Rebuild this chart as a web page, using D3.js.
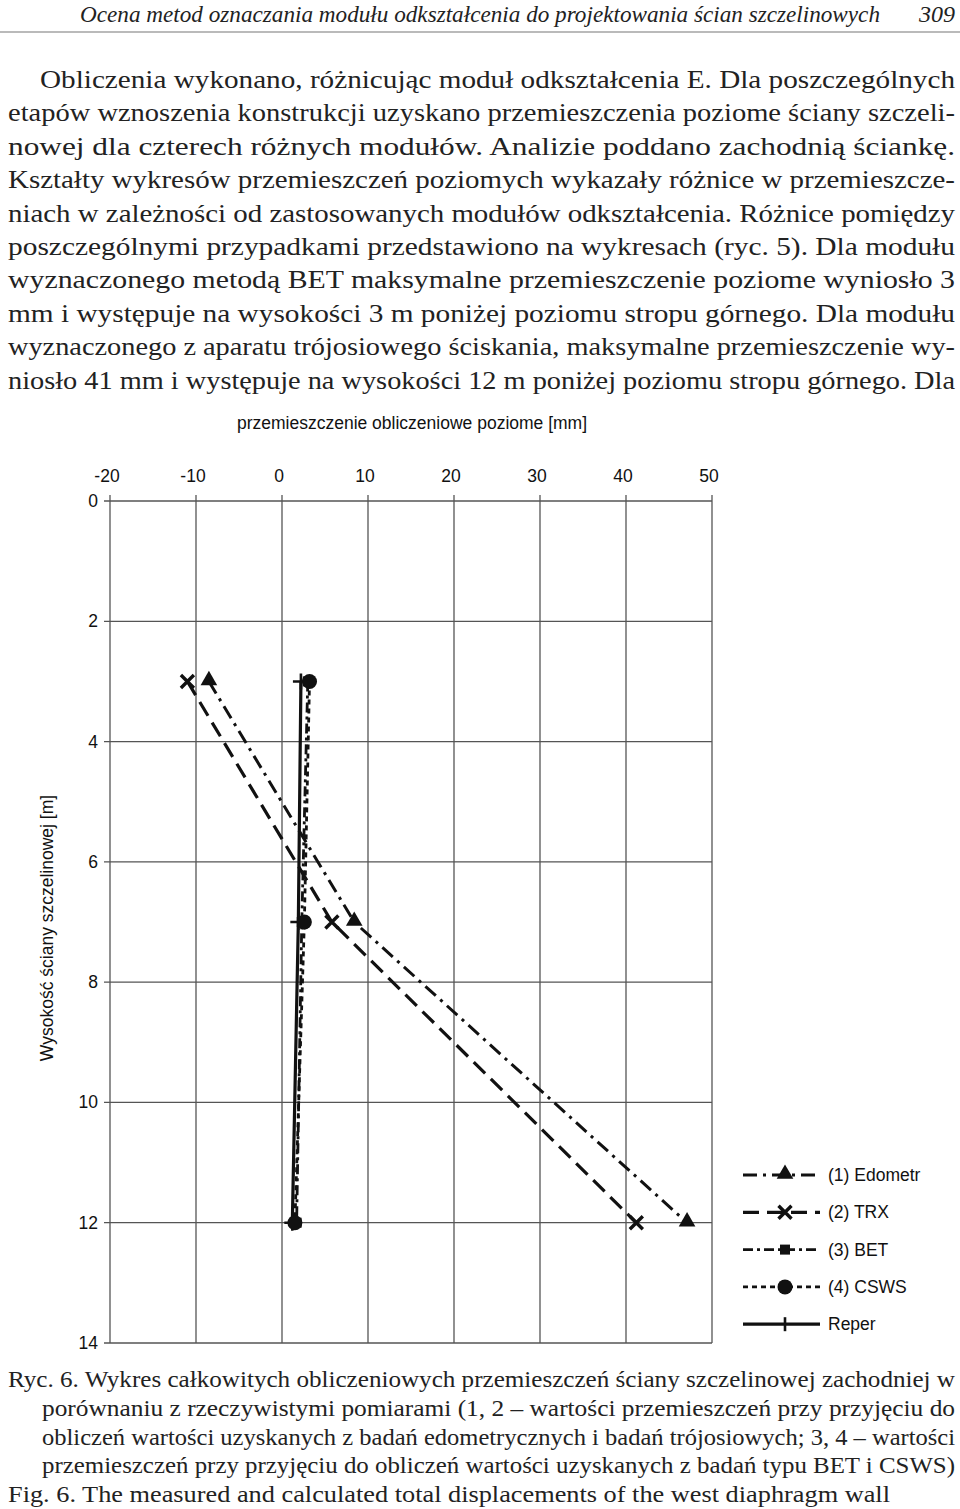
<!DOCTYPE html>
<html>
<head>
  <meta charset="utf-8">
  <title>Ryc. 6</title>
  <script src="https://cdn.jsdelivr.net/npm/d3@7"></script>
  <style>
    body { margin: 0; background: #fff; }
    svg { display: block; }
    .body-text { font-family: "Liberation Serif", "Times New Roman", serif; font-size: 25px; fill: #222; }
    .chart-text { font-family: "Liberation Sans", Arial, sans-serif; font-size: 17.5px; fill: #111; }
  </style>
</head>
<body>
<svg id="page" width="960" height="1509"></svg>
<script>
  // values
  var depths = [3, 7, 12];                 // m below top slab
  var edometr = [-8.5, 8.4, 47.1];         // (1) mm
  var trx = [-11.0, 5.8, 41.2];            // (2) mm
  var bet = [3.0, 2.3, 1.7];               // (3) mm
  var csws = [3.2, 2.6, 1.5];              // (4) mm
  var reper = [2.2, 1.9, 1.2];             // measured
  var xTicks = [-20, -10, 0, 10, 20, 30, 40, 50];
  var yTicks = [0, 2, 4, 6, 8, 10, 12, 14];
  var legendNames = ['(1) Edometr', '(2) TRX', '(3) BET', '(4) CSWS', 'Reper'];

  var bodyLines = [
    'Obliczenia wykonano, różnicując moduł odkształcenia E. Dla poszczególnych',
    'etapów wznoszenia konstrukcji uzyskano przemieszczenia poziome ściany szczeli-',
    'nowej dla czterech różnych modułów. Analizie poddano zachodnią ściankę.',
    'Kształty wykresów przemieszczeń poziomych wykazały różnice w przemieszcze-',
    'niach w zależności od zastosowanych modułów odkształcenia. Różnice pomiędzy',
    'poszczególnymi przypadkami przedstawiono na wykresach (ryc. 5). Dla modułu',
    'wyznaczonego metodą BET maksymalne przemieszczenie poziome wyniosło 3',
    'mm i występuje na wysokości 3 m poniżej poziomu stropu górnego. Dla modułu',
    'wyznaczonego z aparatu trójosiowego ściskania, maksymalne przemieszczenie wy-',
    'niosło 41 mm i występuje na wysokości 12 m poniżej poziomu stropu górnego. Dla'
  ];
  var captionLines = [
    'Ryc. 6. Wykres całkowitych obliczeniowych przemieszczeń ściany szczelinowej zachodniej w',
    'porównaniu z rzeczywistymi pomiarami (1, 2 – wartości przemieszczeń przy przyjęciu do',
    'obliczeń wartości uzyskanych z badań edometrycznych i badań trójosiowych; 3, 4 – wartości',
    'przemieszczeń przy przyjęciu do obliczeń wartości uzyskanych z badań typu BET i CSWS)',
    'Fig. 6. The measured and calculated total displacements of the west diaphragm wall'
  ];

  var svg = d3.select('#page');

  // running header
  svg.append('text').attr('class', 'body-text')
    .attr('x', 80).attr('y', 22)
    .attr('textLength', 800).attr('lengthAdjust', 'spacingAndGlyphs')
    .style('font-style', 'italic').style('font-size', '24px')
    .text('Ocena metod oznaczania modułu odkształcenia do projektowania ścian szczelinowych');
  svg.append('text').attr('class', 'body-text')
    .attr('x', 955).attr('y', 22).attr('text-anchor', 'end')
    .style('font-style', 'italic').style('font-size', '24px')
    .text('309');
  svg.append('line')
    .attr('x1', 0).attr('x2', 960).attr('y1', 32).attr('y2', 32)
    .attr('stroke', '#777').attr('stroke-width', 1.2);

  // body paragraph, justified line by line
  svg.append('g').selectAll('text')
    .data(bodyLines)
    .join('text')
      .attr('class', 'body-text')
      .attr('x', function(d, i) { return i === 0 ? 40 : 8; })
      .attr('y', function(d, i) { return 88 + i * 33.4; })
      .attr('textLength', function(d, i) { return i === 0 ? 915 : 947; })
      .attr('lengthAdjust', 'spacingAndGlyphs')
      .text(function(d) { return d; });

  // chart
  var x = d3.scaleLinear().domain([-20, 50]).range([110, 712]);
  var y = d3.scaleLinear().domain([0, 14]).range([501, 1343]);

  var grid = svg.append('g');
  grid.selectAll('.vline')
    .data(xTicks)
    .join('line')
      .attr('x1', function(d) { return x(d); })
      .attr('x2', function(d) { return x(d); })
      .attr('y1', y(0) - 6).attr('y2', y(14))
      .attr('stroke', '#555').attr('stroke-width', 1.3);
  grid.selectAll('.hline')
    .data(yTicks)
    .join('line')
      .attr('x1', x(-20) - 6).attr('x2', x(50))
      .attr('y1', function(d) { return y(d); })
      .attr('y2', function(d) { return y(d); })
      .attr('stroke', '#555').attr('stroke-width', 1.3);

  svg.append('g').selectAll('text')
    .data(xTicks)
    .join('text')
      .attr('class', 'chart-text')
      .attr('x', function(d) { return x(d) - 3; })
      .attr('y', 482)
      .attr('text-anchor', 'middle')
      .text(function(d) { return d; });
  svg.append('g').selectAll('text')
    .data(yTicks)
    .join('text')
      .attr('class', 'chart-text')
      .attr('x', 98)
      .attr('y', function(d) { return y(d) + 6; })
      .attr('text-anchor', 'end')
      .text(function(d) { return d; });

  svg.append('text').attr('class', 'chart-text')
    .attr('x', 412).attr('y', 429).attr('text-anchor', 'middle')
    .text('przemieszczenie obliczeniowe poziome [mm]');
  svg.append('text').attr('class', 'chart-text')
    .attr('transform', 'translate(53,928) rotate(-90)')
    .attr('text-anchor', 'middle')
    .text('Wysokość ściany szczelinowej [m]');

  var series = [
    {name: legendNames[0], values: edometr, dash: '14,6,3,6', width: 3, marker: 'triangle'},
    {name: legendNames[1], values: trx, dash: '16,8', width: 3.2, marker: 'cross'},
    {name: legendNames[2], values: bet, dash: '10,4,3,4', width: 2.8, marker: 'square'},
    {name: legendNames[3], values: csws, dash: '5,4', width: 2.8, marker: 'circle'},
    {name: legendNames[4], values: reper, dash: null, width: 3.2, marker: 'plus'}
  ];

  var line = d3.line()
    .x(function(d) { return x(d[0]); })
    .y(function(d) { return y(d[1]); });

  series.forEach(function(s) {
    var pts = s.values.map(function(v, i) { return [v, depths[i]]; });
    svg.append('path')
      .attr('d', line(pts))
      .attr('fill', 'none')
      .attr('stroke', '#111')
      .attr('stroke-width', s.width)
      .attr('stroke-dasharray', s.dash);
  });

  function drawMarker(g, type, cx, cy) {
    if (type === 'triangle') {
      g.append('path')
        .attr('d', d3.symbol().type(d3.symbolTriangle).size(120)())
        .attr('transform', 'translate(' + cx + ',' + (cy - 1) + ')')
        .attr('fill', '#111');
    } else if (type === 'cross') {
      g.append('path')
        .attr('d', 'M-6.5,-6.5L6.5,6.5M-6.5,6.5L6.5,-6.5')
        .attr('transform', 'translate(' + cx + ',' + cy + ')')
        .attr('stroke', '#111').attr('stroke-width', 3.4).attr('fill', 'none');
    } else if (type === 'square') {
      g.append('rect')
        .attr('x', cx - 5).attr('y', cy - 5).attr('width', 10).attr('height', 10)
        .attr('fill', '#111');
    } else if (type === 'circle') {
      g.append('circle')
        .attr('cx', cx).attr('cy', cy).attr('r', 7.5)
        .attr('fill', '#111');
    } else if (type === 'plus') {
      g.append('path')
        .attr('d', 'M-8,0L8,0M0,-8L0,8')
        .attr('transform', 'translate(' + cx + ',' + cy + ')')
        .attr('stroke', '#111').attr('stroke-width', 2.6).attr('fill', 'none');
    }
  }

  var markers = svg.append('g');
  [2, 4, 3, 1, 0].forEach(function(k) {
    var s = series[k];
    s.values.forEach(function(v, i) {
      drawMarker(markers, s.marker, x(v), y(depths[i]));
    });
  });

  // legend
  var legend = svg.append('g');
  series.forEach(function(s, i) {
    var ly = 1175 + i * 37.3;
    legend.append('line')
      .attr('x1', 743).attr('x2', 820)
      .attr('y1', ly).attr('y2', ly)
      .attr('stroke', '#111')
      .attr('stroke-width', s.width)
      .attr('stroke-dasharray', s.dash);
    if (s.marker === 'plus') {
      legend.append('line')
        .attr('x1', 785).attr('x2', 785).attr('y1', ly - 7).attr('y2', ly + 7)
        .attr('stroke', '#111').attr('stroke-width', 2.6);
    } else {
      drawMarker(legend, s.marker, 785, ly);
    }
    legend.append('text').attr('class', 'chart-text')
      .attr('x', 828).attr('y', ly + 6)
      .text(s.name);
  });

  // caption
  svg.append('g').selectAll('text')
    .data(captionLines)
    .join('text')
      .attr('class', 'body-text')
      .style('font-size', '23px')
      .attr('x', function(d, i) { return (i === 0 || i === 4) ? 8 : 42; })
      .attr('y', function(d, i) { return 1387 + i * 28.8; })
      .attr('textLength', function(d, i) { return i === 0 ? 947 : (i === 4 ? 882 : 913); })
      .attr('lengthAdjust', 'spacingAndGlyphs')
      .text(function(d) { return d; });
</script>
</body>
</html>
